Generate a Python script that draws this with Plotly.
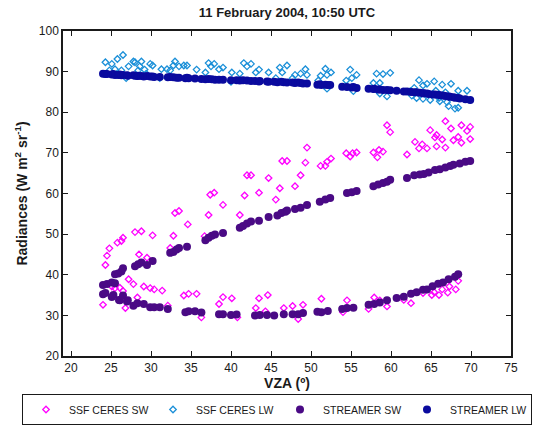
import plotly.graph_objects as go

# SSF CERES shortwave radiances (VZA in degrees, radiance in W m-2 sr-1)
ceres_sw_x = [24.3, 24.5, 24.8, 25.8, 26.3, 26.5, 28.0, 28.8, 30.2, 28.5, 29.5, 32.4, 32.8, 33.0,
              33.5, 34.6, 36.7, 37.2, 37.4, 37.9, 39.0, 41.1, 41.7, 42.0, 42.5, 43.5, 44.7, 45.6,
              46.1, 46.4, 47.0, 48.0, 48.7, 49.3, 49.5, 51.2, 51.8, 52.0, 52.5, 54.4, 54.9, 55.2,
              55.7, 57.8, 58.3, 58.5, 59.0, 59.5, 59.9, 62.0, 63.0, 63.5, 63.9, 64.5, 64.9, 65.5,
              65.7, 65.7, 66.4, 66.8, 66.8, 67.5, 67.8, 68.4, 68.8, 68.8, 69.5, 69.9, 69.9,
              24.0, 27.2, 27.8, 25.1, 25.5, 26.1, 26.5, 28.3, 29.1, 29.9, 30.4, 31.4, 26.8, 32.1,
              34.1, 34.7, 35.7, 36.3, 38.5, 39.0, 40.1, 40.8, 43.1, 43.5, 44.3, 44.6, 46.6, 47.7,
              48.4, 49.0, 51.3, 54.0, 54.5, 57.2, 57.9, 58.6, 59.5, 61.6, 62.5, 64.0, 65.1, 65.4,
              66.0, 66.4, 67.1, 67.3, 68.1, 68.4]
ceres_sw_y = [42.4, 44.7, 46.5, 47.9, 48.3, 49.1, 50.5, 50.7, 49.7, 45.0, 44.2, 46.6, 49.6, 55.2,
              55.7, 52.4, 49.5, 54.7, 59.7, 60.2, 57.2, 54.7, 59.5, 64.5, 64.5, 60.2, 63.8, 58.5,
              61.3, 68.0, 68.0, 61.8, 64.5, 67.6, 71.3, 66.8, 66.8, 67.8, 68.6, 69.9, 69.1, 69.9,
              70.1, 70.1, 68.9, 70.7, 70.3, 76.8, 75.1, 69.6, 72.7, 71.1, 72.1, 71.1, 75.6, 73.8,
              74.4, 71.6, 73.3, 71.3, 77.8, 76.0, 73.1, 73.9, 76.8, 72.5, 75.4, 76.4, 73.4,
              32.6, 38.9, 37.7, 37.1, 36.7, 36.8, 36.0, 34.4, 37.1, 36.7, 36.4, 36.1, 31.8, 32.4,
              34.9, 35.3, 35.3, 29.5, 32.8, 34.5, 34.2, 29.5, 31.8, 34.2, 31.0, 35.0, 31.8, 32.3,
              29.1, 32.6, 34.1, 30.8, 33.7, 31.6, 34.4, 33.7, 32.2, 33.8, 33.0, 35.5, 35.0, 35.7,
              35.0, 36.4, 35.6, 37.1, 36.4, 38.5]

# SSF CERES longwave radiances
ceres_lw_x = [24.3, 25.1, 24.8, 25.5, 25.8, 26.5, 26.3, 26.9, 27.2, 27.8, 28.0, 28.4, 28.8, 28.6,
              29.2, 29.9, 30.2, 29.4, 31.1, 31.3, 32.0, 32.4, 32.8, 33.0, 33.5, 34.1, 34.5, 35.7,
              36.8, 37.2, 37.5, 37.9, 38.5, 39.0, 40.1, 40.0, 41.1, 41.6, 42.0, 42.5, 43.1, 43.5,
              44.7, 45.6, 46.1, 46.4, 47.0, 47.7, 48.0, 48.7, 49.3, 49.5, 50.9, 51.2, 51.8, 52.0,
              52.5, 52.0, 54.4, 54.9, 55.1, 55.3, 55.7, 57.8, 58.2, 58.6, 59.0, 59.9, 58.6, 59.5,
              62.6, 63.5, 64.0, 64.5, 63.2, 64.0, 65.4, 65.6, 66.0, 66.4, 66.8, 67.0, 67.5, 67.2,
              68.0, 68.4, 68.4, 69.5, 62.9, 64.9, 66.1, 62.4]
ceres_lw_y = [92.3, 91.9, 90.3, 90.6, 93.1, 94.1, 90.3, 88.4, 91.3, 92.5, 92.3, 90.3, 92.5, 91.3,
              90.5, 91.9, 91.5, 89.5, 88.4, 90.6, 90.6, 90.3, 91.5, 92.5, 91.3, 91.5, 91.5, 90.5,
              89.8, 92.1, 91.3, 91.9, 90.6, 91.0, 89.8, 87.5, 89.5, 92.1, 91.3, 91.9, 89.8, 90.5,
              89.8, 88.4, 91.0, 89.8, 91.5, 88.4, 89.2, 89.5, 90.6, 89.2, 87.8, 89.0, 90.7, 89.2,
              89.8, 85.8, 87.8, 90.5, 88.4, 85.2, 89.2, 87.2, 89.5, 87.2, 89.4, 89.7, 84.6, 83.9,
              84.1, 87.9, 86.6, 87.0, 83.5, 83.3, 87.6, 85.3, 83.5, 86.8, 84.9, 82.5, 87.0, 81.5,
              80.9, 85.3, 81.1, 85.3, 86.0, 83.0, 82.7, 85.2]

# STREAMER shortwave radiances (lower and upper branches)
streamer_sw_x = [24.0, 24.3, 24.0, 24.5, 25.1, 25.5, 25.3, 25.1, 26.0, 26.1, 26.5, 27.0, 27.1, 27.8,
                 28.3, 29.1, 29.9, 30.4, 31.1, 32.1, 34.3, 34.7, 35.5, 36.3, 38.5, 39.0, 40.0, 40.7,
                 43.0, 43.6, 44.5, 45.4, 46.6, 47.7, 48.4, 49.0, 50.8, 51.3, 52.1, 53.9, 54.5, 55.3,
                 57.2, 57.9, 58.6, 59.5, 60.7, 61.6, 62.5, 63.2, 64.0, 64.5, 65.2, 65.9, 66.5, 67.2,
                 68.0, 68.4,
                 25.5, 25.9, 26.3, 26.5, 28.0, 28.4, 28.8, 29.5, 30.2, 32.4, 32.8, 33.2, 33.5, 34.5,
                 36.8, 37.2, 37.6, 38.0, 39.0, 41.1, 41.5, 42.0, 42.5, 43.5, 44.7, 45.8, 46.3, 46.8,
                 47.0, 48.0, 48.7, 49.5, 51.1, 51.8, 52.4, 54.5, 55.1, 55.7, 57.8, 58.4, 59.0, 59.5,
                 59.9, 62.0, 62.9, 63.6, 64.1, 64.7, 65.5, 66.1, 66.8, 67.4, 67.8, 68.6, 69.3, 69.9]
streamer_sw_y = [35.2, 35.5, 37.5, 37.7, 38.1, 37.9, 35.0, 34.5, 33.8, 33.7, 34.9, 33.4, 33.7, 32.4,
                 33.0, 32.8, 32.0, 32.0, 32.0, 31.6, 30.8, 31.0, 31.0, 30.7, 30.3, 30.3, 30.1, 30.2,
                 30.0, 30.1, 30.1, 30.0, 30.3, 30.3, 30.3, 30.6, 30.9, 30.8, 31.1, 31.6, 31.8, 31.9,
                 32.6, 32.8, 33.2, 33.7, 34.3, 34.6, 35.3, 35.7, 36.3, 36.4, 37.2, 37.8, 38.1, 38.9,
                 39.5, 40.1,
                 40.1, 40.3, 40.8, 41.6, 42.1, 42.6, 43.0, 42.4, 43.4, 45.4, 45.6, 46.2, 46.6, 46.9,
                 48.5, 49.1, 49.6, 49.9, 50.3, 51.6, 52.0, 52.6, 53.1, 53.3, 54.2, 54.6, 55.2, 55.5,
                 55.8, 56.2, 56.5, 57.2, 58.0, 58.5, 58.9, 60.1, 60.3, 60.6, 61.8, 62.2, 62.6, 62.9,
                 63.4, 63.8, 64.5, 64.7, 64.8, 65.2, 65.8, 66.0, 66.4, 66.8, 67.1, 67.4, 67.8, 68.0]

# STREAMER longwave radiances
streamer_lw_x = [24.0, 24.3, 24.5, 25.1, 25.3, 25.5, 25.9, 26.1, 26.3, 26.5, 27.0, 27.1, 27.8, 28.0,
                 28.3, 28.4, 28.8, 29.1, 29.5, 29.9, 30.2, 30.4, 31.1, 32.1, 32.4, 32.8, 33.2, 33.5,
                 34.3, 34.5, 34.7, 35.5, 36.3, 36.8, 37.2, 37.6, 38.0, 38.5, 39.0, 40.0, 40.7, 41.1,
                 41.5, 42.0, 42.5, 43.0, 43.5, 43.6, 44.5, 44.7, 45.4, 45.8, 46.3, 46.6, 47.0, 47.7,
                 48.0, 48.4, 48.7, 49.0, 49.5, 50.8, 51.1, 51.3, 51.8, 52.1, 52.4, 53.9, 54.5, 55.1,
                 55.3, 55.7, 57.2, 57.8, 57.9, 58.4, 58.6, 59.0, 59.5, 59.9, 60.7, 61.6, 62.0, 62.5,
                 62.9, 63.2, 63.6, 64.0, 64.1, 64.5, 64.7, 65.2, 65.5, 65.9, 66.1, 66.5, 66.8, 67.2,
                 67.4, 67.8, 68.0, 68.4, 68.6, 69.3, 69.9]
streamer_lw_y = [89.5, 89.4, 89.4, 89.3, 89.4, 89.2, 89.2, 89.3, 89.1, 89.2, 89.1, 89.0, 89.1, 89.0,
                 88.9, 89.0, 88.9, 88.8, 88.9, 88.8, 88.8, 88.7, 88.7, 88.6, 88.7, 88.6, 88.5, 88.5,
                 88.4, 88.5, 88.4, 88.3, 88.2, 88.1, 88.2, 88.1, 88.0, 88.0, 88.0, 87.9, 87.9, 87.8,
                 87.9, 87.8, 87.7, 87.7, 87.6, 87.7, 87.6, 87.5, 87.5, 87.4, 87.5, 87.4, 87.3, 87.3,
                 87.2, 87.3, 87.2, 87.1, 87.1, 86.8, 86.9, 86.7, 86.8, 86.7, 86.7, 86.3, 86.2, 86.1,
                 86.2, 86.0, 85.8, 85.7, 85.8, 85.6, 85.6, 85.5, 85.5, 85.4, 85.3, 85.1, 85.1, 85.0,
                 84.9, 84.9, 84.8, 84.7, 84.7, 84.6, 84.5, 84.4, 84.4, 84.3, 84.2, 84.1, 84.0, 83.9,
                 83.8, 83.7, 83.6, 83.5, 83.4, 83.2, 83.0]

x_ticks = [20, 25, 30, 35, 40, 45, 50, 55, 60, 65, 70, 75]
y_ticks = [20, 30, 40, 50, 60, 70, 80, 90, 100]

FONT = "Liberation Sans, Arial, sans-serif"

# plot area in pixels: left 63, right 511, top 31, bottom 356
PLOT_L, PLOT_W, PLOT_B, PLOT_H = 63, 448, 356, 325

fig = go.Figure()
fig.add_trace(go.Scatter(
    x=ceres_sw_x, y=ceres_sw_y, mode="markers", name="SSF CERES SW",
    marker=dict(symbol="diamond-open", size=5, color="#FF00FF", line=dict(width=1.3, color="#FF00FF")),
))
fig.add_trace(go.Scatter(
    x=ceres_lw_x, y=ceres_lw_y, mode="markers", name="SSF CERES LW",
    marker=dict(symbol="diamond-open", size=5, color="#1A8FD8", line=dict(width=1.3, color="#1A8FD8")),
))
fig.add_trace(go.Scatter(
    x=streamer_sw_x, y=streamer_sw_y, mode="markers", name="STREAMER SW",
    marker=dict(symbol="circle", size=8, color="#4A0A85", line=dict(width=0)),
))
fig.add_trace(go.Scatter(
    x=streamer_lw_x, y=streamer_lw_y, mode="markers", name="STREAMER LW",
    marker=dict(symbol="circle", size=8, color="#0A0A9E", line=dict(width=0)),
))

axis_common = dict(
    showgrid=False, zeroline=False, showline=True, linecolor="#1a1a1a", linewidth=1.5,
    mirror="ticks", ticks="inside", ticklen=5, tickwidth=1, tickcolor="#1a1a1a",
    tickfont=dict(family=FONT, size=12, color="#1a1a1a"),
    automargin=False,
)

fig.update_layout(
    width=551, height=426,
    margin=dict(l=PLOT_L, r=551 - PLOT_L - PLOT_W, t=31, b=426 - PLOT_B, autoexpand=False),
    paper_bgcolor="white", plot_bgcolor="white",
    title=dict(
        text="<b>11 February 2004, 10:50 UTC</b>",
        font=dict(family=FONT, size=13, color="#1a1a1a"),
        x=0.5, xref="paper", xanchor="center",
        y=1 - 12 / 426, yref="container", yanchor="middle",
    ),
    xaxis=dict(
        range=[19, 75], tickvals=x_ticks, ticktext=[str(v) for v in x_ticks],
        title=dict(text="<b>VZA (º)</b>", font=dict(family=FONT, size=14, color="#1a1a1a"), standoff=4),
        **axis_common,
    ),
    yaxis=dict(
        range=[20, 100], tickvals=y_ticks, ticktext=[str(v) for v in y_ticks],
        title=dict(text="<b>Radiances (W m<sup>2</sup> sr<sup>-1</sup>)</b>",
                   font=dict(family=FONT, size=14, color="#1a1a1a"), standoff=8),
        **axis_common,
    ),
    showlegend=True,
    legend=dict(
        orientation="h",
        xref="paper", yref="paper",
        x=(22 - PLOT_L) / PLOT_W, xanchor="left",
        y=(PLOT_B - 394) / PLOT_H, yanchor="top",
        bordercolor="#1a1a1a", borderwidth=1, bgcolor="white",
        font=dict(family=FONT, size=10.5, color="#1a1a1a"),
        itemwidth=36,
        entrywidth=76, entrywidthmode="pixels",
        itemsizing="trace",
    ),
)

fig.write_html("out.html")
